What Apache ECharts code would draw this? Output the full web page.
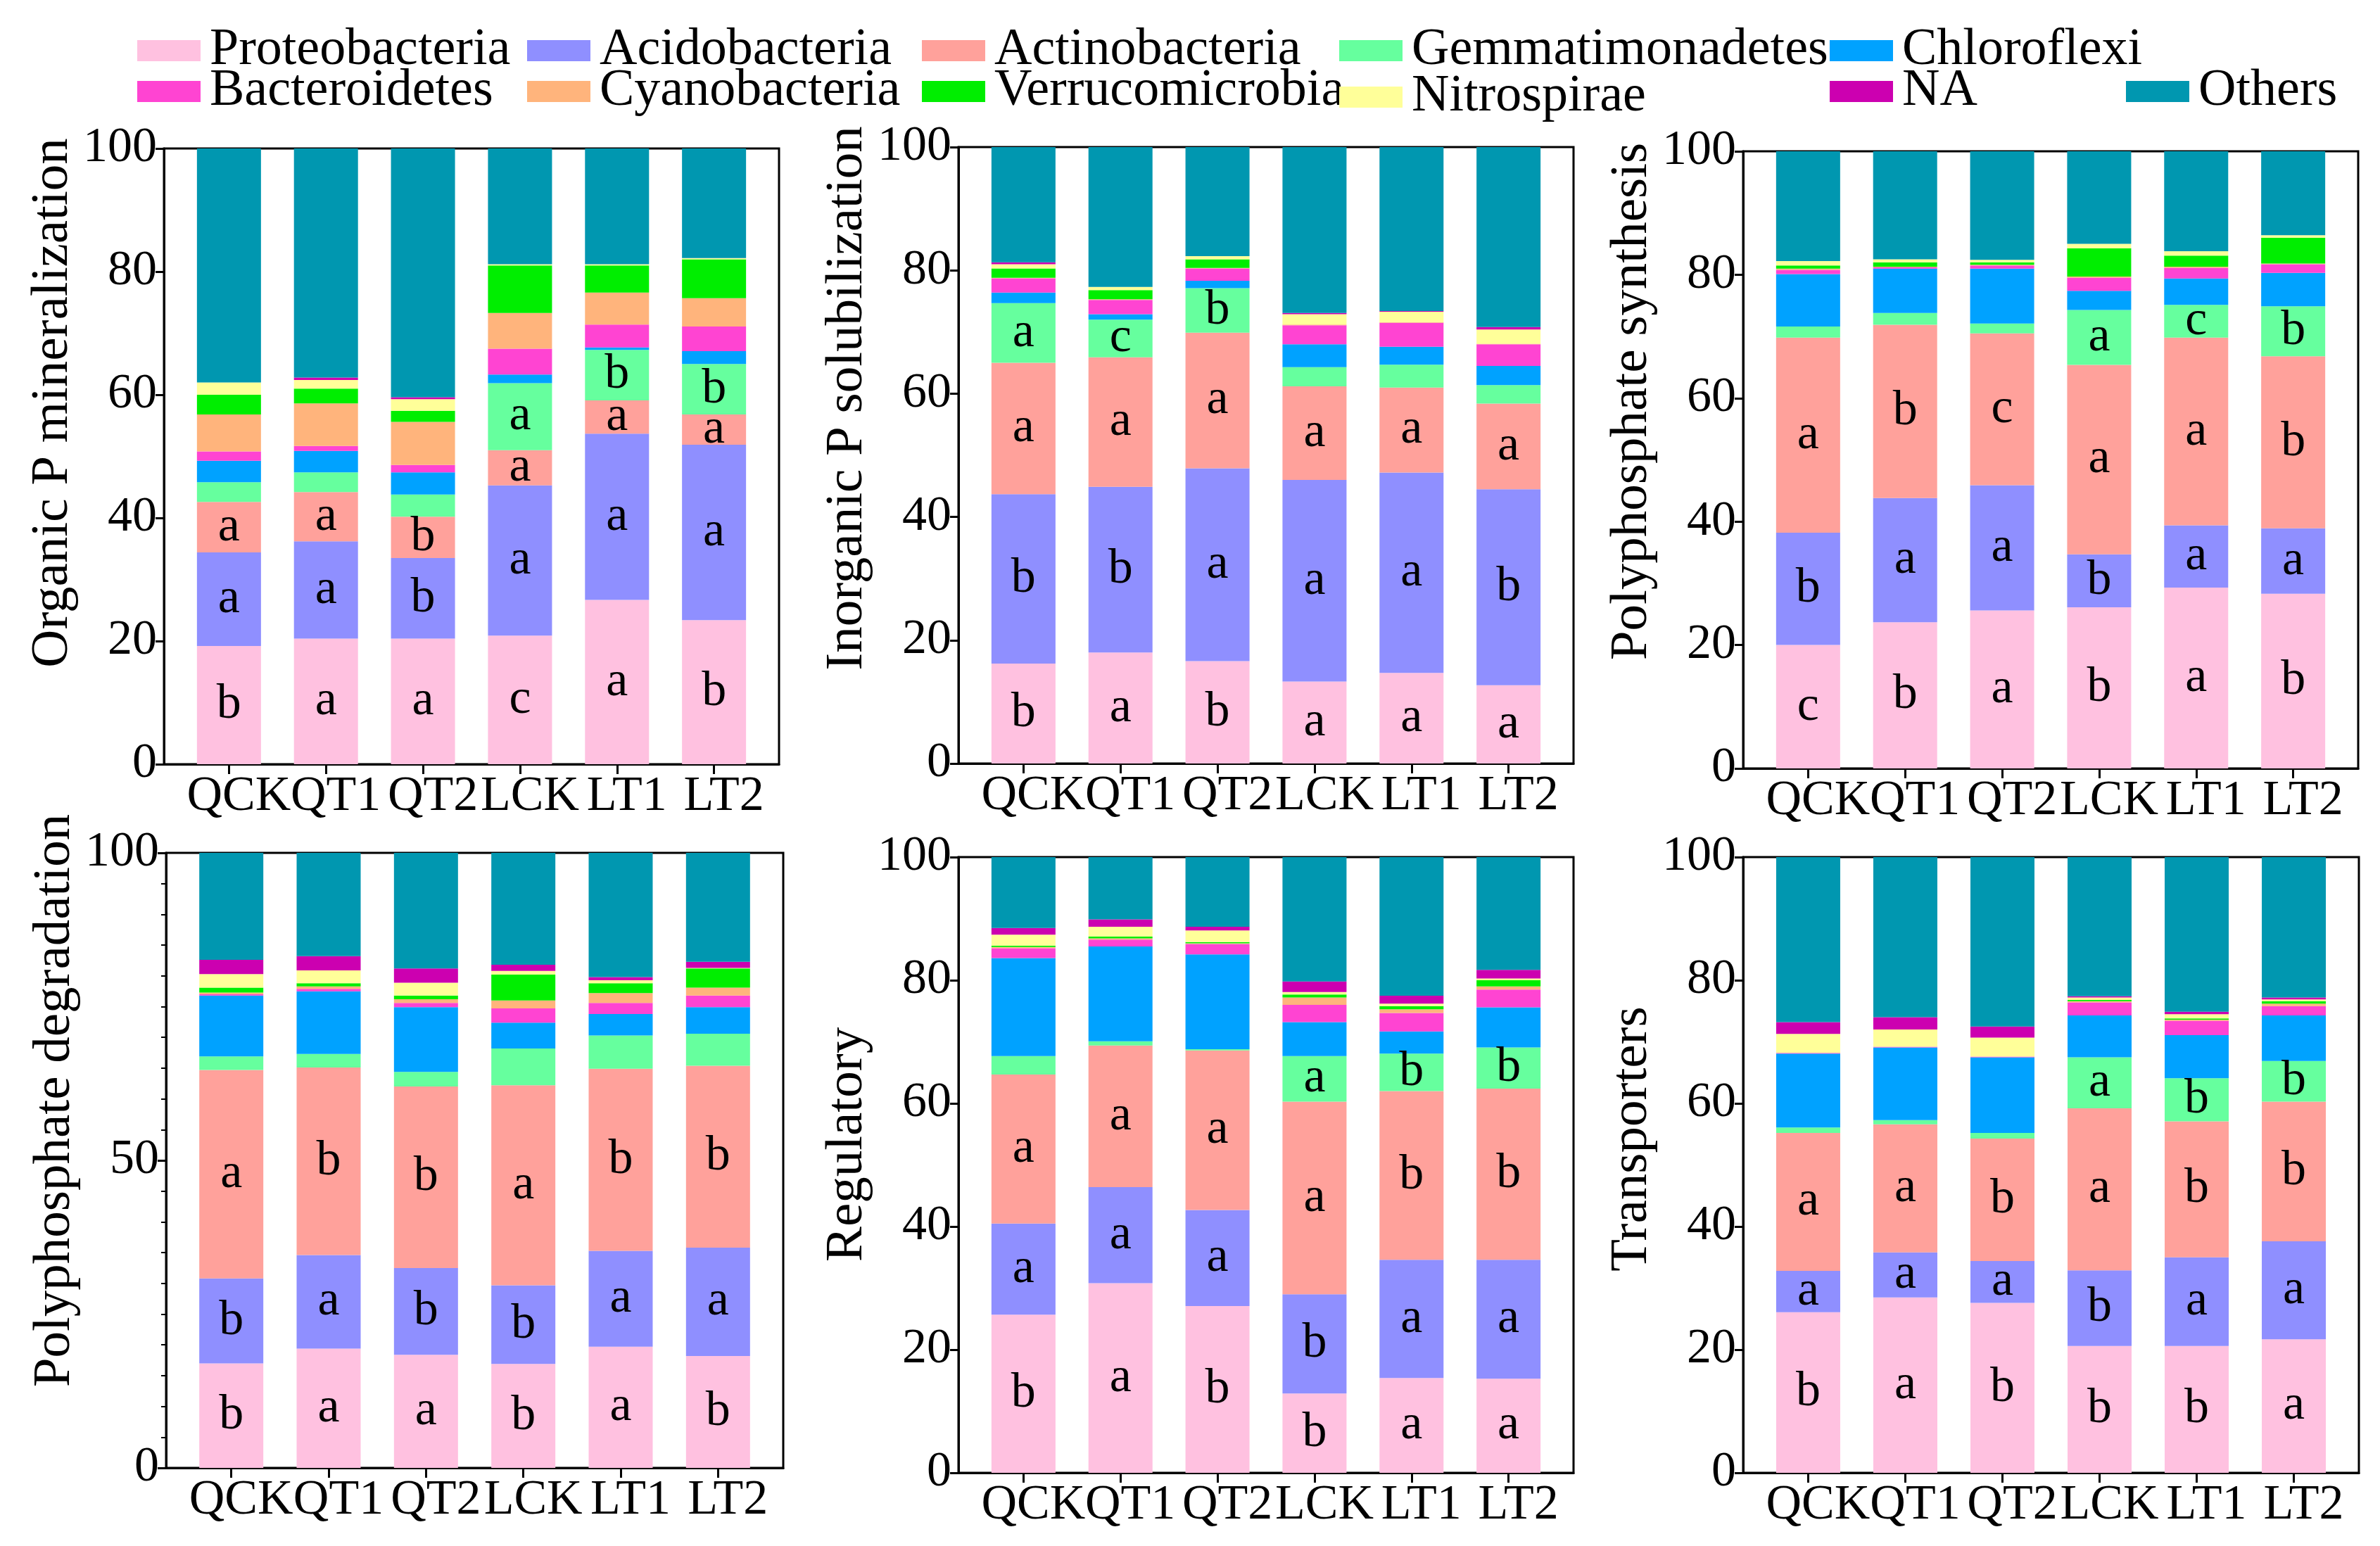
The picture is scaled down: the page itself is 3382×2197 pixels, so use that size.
<!DOCTYPE html>
<html><head><meta charset="utf-8">
<script src="https://cdn.jsdelivr.net/npm/echarts@6/dist/echarts.min.js"></script>
<style>html,body{margin:0;padding:0;background:#fff}#c{width:3382px;height:2197px}</style>
</head><body><div id="c"></div>
<script>
const categories = ['QCK','QT1','QT2','LCK','LT1','LT2'];
const phyla = ['Proteobacteria','Acidobacteria','Actinobacteria','Gemmatimonadetes','Chloroflexi','Bacteroidetes','Cyanobacteria','Verrucomicrobia','Nitrospirae','NA','Others'];
const colors = ['#FFC1E0','#8F8FFF','#FFA19B','#66FF9E','#00A2FF','#FF44D2','#FFB47C','#00EE00','#FFFF99','#CC00B0','#0097B0'];
const panelNames = ['Organic P mineralization','Inorganic P solubilization','Polyphosphate synthesis','Polyphosphate degradation','Regulatory','Transporters'];
const yTickInterval = [20,20,20,50,20,20];

// rows = phyla (bottom -> top), columns = categories
const organicP = [
  [19.2,20.4,20.4,20.9,26.7,23.4],
  [15.2,15.8,13.1,24.4,27.0,28.5],
  [8.2,8.0,6.7,5.7,5.4,4.9],
  [3.2,3.2,3.6,10.9,8.2,8.2],
  [3.5,3.5,3.6,1.4,0.4,2.1],
  [1.5,0.8,1.2,4.2,3.7,4.0],
  [6.0,6.9,7.0,5.8,5.2,4.6],
  [3.2,2.4,1.8,7.7,4.4,6.3],
  [2.0,1.4,1.9,0.2,0.2,0.2],
  [0,0.4,0.3,0,0,0],
  [38.0,37.2,40.4,18.8,18.8,17.8]
];
const inorganicP = [
  [16.2,18.0,16.6,13.3,14.7,12.7],
  [27.5,26.9,31.3,32.7,32.5,31.8],
  [21.3,21.0,22.0,15.2,13.8,13.9],
  [9.7,6.1,7.2,3.1,3.7,3.0],
  [1.7,0.9,1.2,3.7,2.9,3.1],
  [2.3,2.3,2.0,3.1,3.9,3.5],
  [0.1,0.1,0.1,0.1,0.1,0.1],
  [1.5,1.5,1.4,0,0,0],
  [0.7,0.5,0.5,1.7,1.7,2.3],
  [0.3,0,0,0.2,0.1,0.4],
  [18.7,22.7,17.7,26.9,26.6,29.2]
];
const polySynth = [
  [20.0,23.7,25.6,26.1,29.3,28.3],
  [18.2,20.1,20.3,8.6,10.1,10.6],
  [31.6,28.1,24.6,30.7,30.4,27.9],
  [1.8,1.9,1.6,8.9,5.3,8.1],
  [8.5,7.2,8.9,3.1,4.3,5.4],
  [0.7,0.2,0.5,2.1,1.7,1.4],
  [0.2,0.1,0.1,0.2,0.2,0.1],
  [0.5,0.7,0.4,4.6,1.8,4.2],
  [0.7,0.5,0.4,0.7,0.7,0.4],
  [0,0,0,0,0,0],
  [17.8,17.5,17.6,15.0,16.2,13.6]
];
const polyDeg = [
  [17.0,19.4,18.4,16.9,19.7,18.2],
  [13.8,15.2,14.1,12.8,15.6,17.6],
  [33.9,30.5,29.5,32.5,29.6,29.6],
  [2.2,2.2,2.4,6.0,5.4,5.2],
  [9.9,10.2,10.5,4.2,3.5,4.3],
  [0.2,0.4,0.7,2.3,1.8,1.9],
  [0.3,0.4,0.6,1.3,1.6,1.3],
  [0.8,0.5,0.6,4.2,1.6,3.1],
  [2.2,2.1,2.1,0.6,0.5,0.1],
  [2.3,2.3,2.3,1.0,0.5,1.0],
  [17.4,16.8,18.8,18.2,20.2,17.7]
];
const regulatory = [
  [25.7,30.8,27.1,12.9,15.4,15.3],
  [14.8,15.6,15.6,16.1,19.2,19.3],
  [24.2,23.0,25.9,31.3,27.4,27.8],
  [3.0,0.7,0.2,7.4,6.1,6.7],
  [15.9,15.4,15.4,5.5,3.6,6.5],
  [1.6,1.1,1.7,2.8,3.0,2.9],
  [0.2,0.2,0.1,1.2,0.6,0.5],
  [0.2,0.3,0.2,0.5,0.5,1.0],
  [1.8,1.6,1.9,0.4,0.4,0.3],
  [1.1,1.2,0.6,1.7,1.3,1.4],
  [11.5,10.1,11.3,20.2,22.5,18.3]
];
const transporters = [
  [26.1,28.5,27.6,20.6,20.6,21.7],
  [6.7,7.3,6.8,12.3,14.4,15.9],
  [22.4,20.8,19.9,26.3,22.1,22.7],
  [0.9,0.7,0.9,8.3,7.0,6.6],
  [12.0,11.8,12.3,6.8,7.0,7.4],
  [0.1,0.1,0.1,2.1,2.3,1.5],
  [0,0,0,0.2,0.2,0.4],
  [0,0,0,0.2,0.2,0.4],
  [3.1,2.8,3.1,0.4,0.7,0.3],
  [1.9,2.0,1.8,0.2,0.4,0.3],
  [26.8,26.0,27.5,22.6,25.1,22.8]
];

// significance letters for Proteobacteria, Acidobacteria, Actinobacteria, Gemmatimonadetes
const organicP_letters = [['b','a','a','c','a','b'],['a','a','b','a','a','a'],['a','a','b','a','a','a'],['','','','a','b','b']];
const inorganicP_letters = [['b','a','b','a','a','a'],['b','b','a','a','a','b'],['a','a','a','a','a','a'],['a','c','b','','','']];
const polySynth_letters = [['c','b','a','b','a','b'],['b','a','a','b','a','a'],['a','b','c','a','a','b'],['','','','a','c','b']];
const polyDeg_letters = [['b','a','a','b','a','b'],['b','a','b','b','a','a'],['a','b','b','a','b','b'],['','','','','','']];
const regulatory_letters = [['b','a','b','b','a','a'],['a','a','a','b','a','a'],['a','a','a','a','b','b'],['','','','a','b','b']];
const transporters_letters = [['b','a','b','b','b','a'],['a','a','a','b','a','a'],['a','a','b','a','b','b'],['','','','a','b','b']];

const panels = [organicP, inorganicP, polySynth, polyDeg, regulatory, transporters];
const panelLetters = [organicP_letters, inorganicP_letters, polySynth_letters, polyDeg_letters, regulatory_letters, transporters_letters];

// layout
const FONT = "'Liberation Serif', 'Times New Roman', serif";
const gridBoxes = [
  {left:233, top:211, width:874, height:875},
  {left:1362, top:209, width:874, height:876},
  {left:2477, top:215, width:874, height:877},
  {left:236, top:1212, width:877, height:874},
  {left:1362, top:1218, width:874, height:875},
  {left:2477, top:1218, width:875, height:875}
];
const nameShift = [76, 81, 83, 85, 29, 37];
const legendLeft = [190, 744, 1305, 1898, 2595, 190, 744, 1305, 1898, 2595, 3016];
const legendTop = [30, 30, 30, 30, 30, 88, 88, 88, 96, 88, 88];

// positions of the categories along the x value axis (1..6)
const catPos = categories.map((c, j) => j + 1);
const oddPos = catPos.filter((v, j) => j % 2 === 0);
const evenPos = catPos.filter((v, j) => j % 2 === 1);

const grid = gridBoxes.map(g => Object.assign({show:true, borderColor:'#000', borderWidth:3, backgroundColor:'transparent'}, g));

const labelStyle = (vals) => ({
  customValues:vals, showMinLabel:true, showMaxLabel:true, hideOverlap:false,
  alignMinLabel:'center', alignMaxLabel:'center',
  fontSize:70, fontFamily:FONT, color:'#000', margin:12, padding:[0,0,0,28],
  formatter:(v) => categories[Math.round(v) - 1] || ''
});

const xAxis = [];
gridBoxes.forEach((g,i) => {
  xAxis.push({
    type:'value', gridIndex:i, min:0.33, max:6.67, position:'bottom', offset:0,
    axisLine:{show:true, onZero:false, lineStyle:{color:'#000', width:3}},
    axisTick:{show:true, customValues:catPos, length:14, lineStyle:{color:'#000', width:3}},
    axisLabel:labelStyle(oddPos),
    splitLine:{show:false}
  });
  xAxis.push({
    type:'value', gridIndex:i, min:0.33, max:6.67, position:'bottom', offset:0,
    axisLine:{show:false, onZero:false},
    axisTick:{show:false},
    axisLabel:labelStyle(evenPos),
    splitLine:{show:false}
  });
});

const yAxis = gridBoxes.map((g,i) => ({
  type:'value', gridIndex:i, min:0, max:100, interval:yTickInterval[i],
  name:panelNames[i], nameLocation:'middle', nameGap:120, nameRotate:90,
  nameTextStyle:{fontSize:75, fontFamily:FONT, color:'#000', padding:[0,0,0,2*nameShift[i]]},
  axisLine:{show:true, onZero:false, lineStyle:{color:'#000', width:3}},
  axisTick:{show:true, length:12, lineStyle:{color:'#000', width:3}},
  minorTick:{show:i===3, splitNumber:10, length:7, lineStyle:{color:'#000', width:2}},
  axisLabel:{fontSize:70, fontFamily:FONT, color:'#000', margin:10},
  splitLine:{show:false}
}));

const series = [];
panels.forEach((rows, p) => {
  rows.forEach((vals, k) => {
    const letters = panelLetters[p][k];
    series.push({
      type:'bar', name:phyla[k], stack:'s'+p, xAxisIndex:2*p, yAxisIndex:p,
      barWidth:91,
      // column 0 = value (stacked on y), column 1 = category position on x
      data:vals.map((v, j) => [v, catPos[j]]),
      encode:{x:1, y:0},
      itemStyle:{color:colors[k]},
      label: letters ? {
        show:true, position:'inside', fontSize:70, fontFamily:FONT, color:'#000',
        formatter: (prm) => letters[prm.dataIndex] || ''
      } : {show:false},
      emphasis:{disabled:true}
    });
  });
});

const legend = phyla.map((name, i) => ({
  data:[name], left:legendLeft[i], top:legendTop[i], orient:'horizontal',
  itemWidth:90, itemHeight:30, icon:'rect', selectedMode:false,
  textStyle:{fontSize:74, fontFamily:FONT, color:'#000', padding:[0,0,0,8]}
}));

const chart = echarts.init(document.getElementById('c'), null, {renderer:'canvas', width:3382, height:2197});
chart.setOption({animation:false, backgroundColor:'#fff', legend, grid, xAxis, yAxis, series});
</script>
</body></html>
